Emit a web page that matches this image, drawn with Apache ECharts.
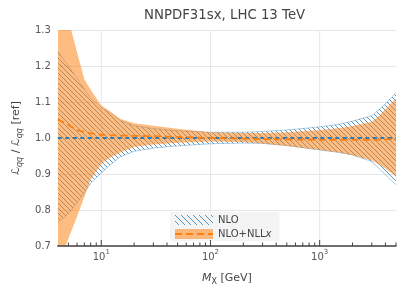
<!DOCTYPE html>
<html>
<head>
<meta charset="utf-8">
<script src="https://cdn.jsdelivr.net/npm/echarts@6/dist/echarts.min.js"></script>
<style>html,body{margin:0;padding:0;background:#fff;}#c{width:408px;height:296px;}</style>
</head>
<body>
<div id="c"></div>
<script>
// ---- data ----
const mx = [4, 5, 6, 7, 8, 10, 12, 15, 20, 30, 50, 100, 200, 300, 500, 1000, 1500, 2000, 3000, 3500, 4000, 5000];
const nloLow = [0.765, 0.79, 0.82, 0.848, 0.875, 0.903, 0.925, 0.948, 0.963, 0.972, 0.978, 0.984, 0.986, 0.985, 0.979, 0.967, 0.96, 0.953, 0.935, 0.915, 0.898, 0.87];
const nloHigh = [1.24, 1.2, 1.165, 1.135, 1.11, 1.085, 1.07, 1.048, 1.034, 1.026, 1.02, 1.016, 1.016, 1.018, 1.022, 1.031, 1.038, 1.047, 1.062, 1.079, 1.095, 1.126];
const nloCentral = [1, 1, 1, 1, 1, 1, 1, 1, 1, 1, 1, 1, 1, 1, 1, 1, 1, 1, 1, 1, 1, 1];
const nllLow = [0.645, 0.72, 0.782, 0.837, 0.885, 0.928, 0.945, 0.96, 0.975, 0.982, 0.987, 0.99, 0.989, 0.985, 0.978, 0.967, 0.96, 0.952, 0.938, 0.926, 0.915, 0.893];
const nllHigh = [1.44, 1.33, 1.238, 1.163, 1.134, 1.09, 1.074, 1.053, 1.041, 1.034, 1.026, 1.016, 1.014, 1.014, 1.016, 1.022, 1.027, 1.033, 1.045, 1.062, 1.08, 1.11];
const nllCentral = [1.051, 1.036, 1.022, 1.017, 1.013, 1.009, 1.008, 1.007, 1.006, 1.005, 1.003, 1.0, 0.998, 0.997, 0.996, 0.995, 0.995, 0.995, 0.995, 0.995, 0.996, 0.996];
const majorTicks = [10, 100, 1000];
const minorTicks = [5, 6, 7, 8, 9, 20, 30, 40, 50, 60, 70, 80, 90, 200, 300, 400, 500, 600, 700, 800, 900, 2000, 3000, 4000, 5000];
const yTicks = [0.7, 0.8, 0.9, 1.0, 1.1, 1.2, 1.3];
const titleText = 'NNPDF31sx, LHC 13 TeV';
const seriesNames = ['NLO', 'NLO+NLLx'];

// ---- styles ----
const FONT = 'DejaVu Sans';
const BLUE = '#1f77b4';
const HATCH = 'rgba(31,119,180,0.85)';
const ORANGE = '#ff7f0e';
const ORANGE_FILL = 'rgba(255,127,14,0.52)';
const EDGE_BLUE = 'rgba(31,119,180,0.45)';

function makeHatch(size, color) {
  const c = document.createElement('canvas');
  c.width = size; c.height = size;
  const g = c.getContext('2d');
  g.strokeStyle = color; g.lineWidth = 0.9;
  for (const off of [-size, 0, size]) {
    g.beginPath(); g.moveTo(off, 0); g.lineTo(off + size, size); g.stroke();
  }
  return c;
}
const hatch = makeHatch(5, HATCH);

function legendIcon(kind) {
  const w = 38, h = 10;
  const c = document.createElement('canvas');
  c.width = w; c.height = h;
  const g = c.getContext('2d');
  if (kind === 0) {
    g.fillStyle = g.createPattern(makeHatch(6, HATCH), 'repeat');
    g.fillRect(0, 0, w, h);
  } else {
    g.fillStyle = ORANGE_FILL; g.fillRect(0, 0, w, h);
    g.strokeStyle = ORANGE; g.lineWidth = 1.8; g.setLineDash([7, 4]);
    g.beginPath(); g.moveTo(0, h / 2); g.lineTo(w, h / 2); g.stroke();
  }
  return 'image://' + c.toDataURL();
}

const pairs = arr => mx.map((m, i) => [m, arr[i]]);
const bandRows = (lo, hi) => mx.map((m, i) => [m, lo[i], hi[i]]);

function bandRenderer(lo, hi, fill, edge) {
  return (params, api) => {
    if (params.dataIndex !== 0) return null;
    const top = mx.map((m, i) => api.coord([m, hi[i]]));
    const bot = mx.map((m, i) => api.coord([m, lo[i]]));
    const poly = top.concat(bot.slice().reverse());
    const cs = params.coordSys;
    const children = [{type: 'polygon', shape: {points: poly}, style: {fill: fill, stroke: null}}];
    if (edge) {
      children.push({type: 'polyline', shape: {points: top}, style: {fill: null, stroke: edge, lineWidth: 0.8}});
      children.push({type: 'polyline', shape: {points: bot}, style: {fill: null, stroke: edge, lineWidth: 0.8}});
    }
    return {type: 'group', clipPath: {type: 'rect', shape: {x: cs.x, y: cs.y, width: cs.width, height: cs.height}}, children};
  };
}

const chart = echarts.init(document.getElementById('c'), null, {renderer: 'canvas'});
chart.setOption({
  animation: false,
  backgroundColor: '#fff',
  textStyle: {fontFamily: FONT},
  title: {
    text: titleText, left: 144, top: 9, padding: 0,
    textStyle: {fontFamily: FONT, fontSize: 13.3, fontWeight: 'normal', color: '#444'}
  },
  grid: {left: 55, right: 12, top: 30, bottom: 50, containLabel: false},
  legend: {
    left: 170, top: 212, orient: 'vertical',
    backgroundColor: 'rgba(242,242,242,0.85)', borderRadius: 2,
    padding: [3, 8, 2, 5], itemGap: 4, itemWidth: 38, itemHeight: 10,
    textStyle: {fontFamily: FONT, fontSize: 10, color: '#444', rich: {it: {fontFamily: FONT, fontSize: 10, color: '#444', fontStyle: 'italic'}}},
    formatter: n => n === 'NLO+NLLx' ? 'NLO+NLL{it|x}' : n,
    data: [
      {name: seriesNames[0], icon: legendIcon(0)},
      {name: seriesNames[1], icon: legendIcon(1)}
    ]
  },
  xAxis: {
    type: 'log', logBase: 10, min: 4, max: 5000, z: 5,
    name: '{i|M}{s|X} [GeV]', nameLocation: 'middle', nameGap: 20,
    nameTextStyle: {fontFamily: FONT, fontSize: 11, color: '#444', lineHeight: 16,
      rich: {i: {fontFamily: FONT, fontSize: 11, fontStyle: 'italic', color: '#444', lineHeight: 16},
             s: {fontFamily: FONT, fontSize: 8, color: '#444', verticalAlign: 'bottom'}}},
    axisLine: {show: true, lineStyle: {color: '#444', width: 1.5}},
    axisTick: {show: false},
    splitLine: {show: false},
    axisLabel: {
      margin: 3, color: '#555', fontFamily: FONT, fontSize: 10, lineHeight: 16,
      formatter: v => {
        const lg = Math.log10(v);
        const r = Math.round(lg);
        if (Math.abs(lg - r) < 1e-6 && majorTicks.indexOf(Math.round(v)) >= 0) return '10{sup|' + r + '}';
        return '';
      },
      rich: {sup: {fontFamily: FONT, fontSize: 7, color: '#555', verticalAlign: 'top'}}
    }
  },
  yAxis: {
    type: 'value', min: yTicks[0], max: yTicks[yTicks.length - 1], interval: 0.1,
    name: '{L|ℒ}{s|qq} / {L|ℒ}{s|qq} [ref]', nameLocation: 'middle', nameGap: 27, nameRotate: 90,
    nameTextStyle: {fontFamily: FONT, fontSize: 11, color: '#444', lineHeight: 16,
      rich: {L: {fontFamily: FONT, fontSize: 11, color: '#444', lineHeight: 16},
             s: {fontFamily: FONT, fontSize: 8, color: '#444', fontStyle: 'italic', verticalAlign: 'bottom'}}},
    axisLine: {show: false}, axisTick: {show: false},
    axisLabel: {margin: 7, color: '#555', fontFamily: FONT, fontSize: 10, formatter: v => v.toFixed(1)},
    splitLine: {show: true, lineStyle: {color: '#e6e6e6', width: 1}}
  },
  series: [
    {
      name: 'vgrid', type: 'custom', z: 1, silent: true, clip: true,
      data: majorTicks.map(v => [v]),
      encode: {x: 0},
      renderItem: (params, api) => {
        const a = api.coord([api.value(0), yTicks[0]]);
        const b = api.coord([api.value(0), yTicks[yTicks.length - 1]]);
        return {type: 'line', shape: {x1: a[0], y1: a[1], x2: b[0], y2: b[1]}, style: {stroke: '#e6e6e6', lineWidth: 1}};
      }
    },
    {
      name: seriesNames[0], type: 'custom', z: 2, silent: true,
      data: bandRows(nloLow, nloHigh), encode: {x: 0, y: [1, 2]},
      itemStyle: {color: BLUE},
      renderItem: bandRenderer(nloLow, nloHigh, {image: hatch, repeat: 'repeat'}, EDGE_BLUE)
    },
    {
      name: seriesNames[1], type: 'custom', z: 3, silent: true,
      data: bandRows(nllLow, nllHigh), encode: {x: 0, y: [1, 2]},
      itemStyle: {color: ORANGE},
      renderItem: bandRenderer(nllLow, nllHigh, ORANGE_FILL, null)
    },
    {
      name: 'nloCentral', type: 'line', z: 4, symbol: 'none', silent: true,
      data: pairs(nloCentral),
      lineStyle: {color: '#2f7ab5', width: 2, type: [4, 3.5]}
    },
    {
      name: 'nllCentral', type: 'line', z: 4, symbol: 'none', silent: true,
      data: pairs(nllCentral),
      lineStyle: {color: ORANGE, width: 1.8, type: [7, 4]}
    },
    {
      name: 'ticks', type: 'custom', z: 6, silent: true, clip: false,
      data: majorTicks.concat(minorTicks).map(v => [v]),
      encode: {x: 0},
      renderItem: (params, api) => {
        const v = api.value(0);
        const p = api.coord([v, yTicks[0]]);
        const len = majorTicks.indexOf(v) >= 0 ? 6 : 3.5;
        return {type: 'line', shape: {x1: p[0], y1: p[1], x2: p[0], y2: p[1] - len}, style: {stroke: '#444', lineWidth: 1}};
      }
    }
  ]
});
</script>
</body>
</html>
